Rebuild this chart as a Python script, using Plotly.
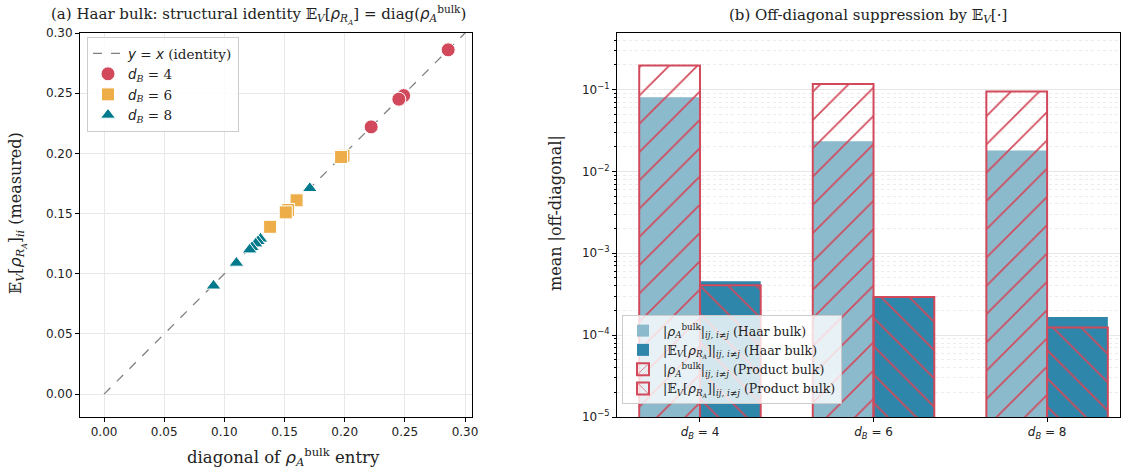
import plotly.graph_objects as go

# ---------------- Panel (a) data ----------------
identity_x = [0.0, 0.305]
identity_y = [0.0, 0.305]

d4_bulk = [0.286, 0.249, 0.245, 0.222]
d4_meas = [0.286, 0.248, 0.245, 0.222]

d6_bulk = [0.199, 0.197, 0.160, 0.153, 0.151, 0.138]
d6_meas = [0.198, 0.197, 0.161, 0.153, 0.151, 0.139]

d8_bulk = [0.171, 0.130, 0.128, 0.126, 0.123, 0.121, 0.110, 0.091]
d8_meas = [0.171, 0.129, 0.127, 0.125, 0.122, 0.120, 0.109, 0.090]

x_ticks_a = [0.00, 0.05, 0.10, 0.15, 0.20, 0.25, 0.30]
y_ticks_a = [0.00, 0.05, 0.10, 0.15, 0.20, 0.25, 0.30]

# ---------------- Panel (b) data ----------------
cat_idx = [0, 1, 2]
cat_labels = ["<i>d</i><sub><i>B</i></sub> = 4", "<i>d</i><sub><i>B</i></sub> = 6", "<i>d</i><sub><i>B</i></sub> = 8"]
haar_bulk_off = [0.0805, 0.0234, 0.0180]
haar_ev_off = [4.56e-4, 2.85e-4, 1.67e-4]
prod_bulk_off = [0.196, 0.117, 0.0946]
prod_ev_off = [4.07e-4, 2.93e-4, 1.24e-4]
y_ticks_b = [1e-5, 1e-4, 1e-3, 1e-2, 1e-1]
y_ticktext_b = ["10<sup>−5</sup>", "10<sup>−4</sup>", "10<sup>−3</sup>", "10<sup>−2</sup>", "10<sup>−1</sup>"]

RED = "#d1495b"
ORANGE = "#edae49"
TEAL = "#00798c"
LIGHT = "#8cbacd"
DARK = "#2e86ab"
SERIF = "DejaVu Serif"
SANS = "DejaVu Sans"

def m(s):
    return '<span style="font-family:DejaVu Sans"><i>' + s + '</i></span>'

fig = go.Figure()

# panel (a)
fig.add_trace(go.Scatter(x=identity_x, y=identity_y, mode="lines",
                         line=dict(color="#808080", width=1.3, dash="dash"),
                         name=m("y") + " = " + m("x") + " (identity)",
                         xaxis="x", yaxis="y", legend="legend"))
fig.add_trace(go.Scatter(x=d4_bulk, y=d4_meas, mode="markers",
                         marker=dict(symbol="circle", size=14, color=RED, line=dict(color="white", width=1)),
                         name=m("d") + "<sub><i>B</i></sub> = 4", xaxis="x", yaxis="y", legend="legend"))
fig.add_trace(go.Scatter(x=d6_bulk, y=d6_meas, mode="markers",
                         marker=dict(symbol="square", size=13, color=ORANGE, line=dict(color="white", width=1)),
                         name=m("d") + "<sub><i>B</i></sub> = 6", xaxis="x", yaxis="y", legend="legend"))
fig.add_trace(go.Scatter(x=d8_bulk, y=d8_meas, mode="markers",
                         marker=dict(symbol="triangle-up", size=13, color=TEAL, line=dict(color="white", width=1)),
                         name=m("d") + "<sub><i>B</i></sub> = 8", xaxis="x", yaxis="y", legend="legend"))

# panel (b)
W = 0.35
lab_bulk = "|" + m("ρ") + "<sub><i>A</i></sub><sup>bulk</sup>|<sub><i>ij, i≠j</i></sub>"
lab_ev = "|𝔼<sub><i>V</i></sub>[" + m("ρ") + "<sub><i>R<sub>A</sub></i></sub>]|<sub><i>ij, i≠j</i></sub>"

fig.add_trace(go.Bar(x=cat_idx, y=haar_bulk_off, width=W, offset=-W,
                     marker=dict(color=LIGHT, line=dict(width=0)),
                     name=lab_bulk + " (Haar bulk)", xaxis="x2", yaxis="y2", legend="legend2"))
fig.add_trace(go.Bar(x=cat_idx, y=haar_ev_off, width=W, offset=0,
                     marker=dict(color=DARK, line=dict(width=0)),
                     name=lab_ev + " (Haar bulk)", xaxis="x2", yaxis="y2", legend="legend2"))
fig.add_trace(go.Bar(x=cat_idx, y=prod_bulk_off, width=W, offset=-W,
                     marker=dict(color="rgba(0,0,0,0)", line=dict(color=RED, width=2),
                                 pattern=dict(shape="/", fgcolor=RED, bgcolor="rgba(0,0,0,0)", fgopacity=1,
                                              size=20, solidity=0.085, fillmode="overlay")),
                     name=lab_bulk + " (Product bulk)", xaxis="x2", yaxis="y2", legend="legend2"))
fig.add_trace(go.Bar(x=cat_idx, y=prod_ev_off, width=W, offset=0,
                     marker=dict(color="rgba(0,0,0,0)", line=dict(color=RED, width=2),
                                 pattern=dict(shape="\\", fgcolor=RED, bgcolor="rgba(0,0,0,0)", fgopacity=1,
                                              size=20, solidity=0.085, fillmode="overlay")),
                     name=lab_ev + " (Product bulk)", xaxis="x2", yaxis="y2", legend="legend2"))

FW, FH = 1129, 472
def px_x(p):
    return p / FW
def px_y(p):
    return 1 - p / FH

minor_vals = [k * 10.0 ** e for e in range(-5, 0) for k in range(2, 10)]

axis_common = dict(showline=True, linecolor="black", linewidth=1, mirror=True,
                   ticks="outside", ticklen=4, tickcolor="black", zeroline=False,
                   automargin=False,
                   tickfont=dict(family=SANS, size=12, color="#222"))

fig.update_layout(
    width=FW, height=FH,
    margin=dict(l=0, r=0, t=0, b=0, autoexpand=False),
    paper_bgcolor="white", plot_bgcolor="white",
    barmode="overlay",
    xaxis=dict(domain=[px_x(80), px_x(472)], range=[-0.02, 0.3058],
               tickvals=x_ticks_a, ticktext=["%.2f" % v for v in x_ticks_a],
               showgrid=True, gridcolor="#e8e8e8", anchor="y", **axis_common),
    yaxis=dict(domain=[px_y(417), px_y(33)], range=[-0.019, 0.30],
               tickvals=y_ticks_a, ticktext=["%.2f" % v for v in y_ticks_a],
               showgrid=True, gridcolor="#e8e8e8", anchor="x", **axis_common),
    xaxis2=dict(domain=[px_x(617), px_x(1120)], range=[-0.478, 2.42],
                tickvals=cat_idx, ticktext=cat_labels, showgrid=False, anchor="y2", **axis_common),
    yaxis2=dict(domain=[px_y(417), px_y(33)], type="log", range=[-5, -0.31],
                tickvals=y_ticks_b, ticktext=y_ticktext_b,
                showgrid=True, gridcolor="#e6e6e6", anchor="x2",
                minor=dict(tickvals=minor_vals, ticks="outside", ticklen=2, tickcolor="black",
                           showgrid=True, gridcolor="#ececec", griddash="dot", gridwidth=1),
                **axis_common),
    legend=dict(x=px_x(87), y=px_y(37), xanchor="left", yanchor="top",
                bgcolor="rgba(255,255,255,0.85)", bordercolor="#cccccc", borderwidth=1,
                font=dict(family=SERIF, size=13.5, color="#222"), tracegroupgap=2, itemwidth=30),
    legend2=dict(x=px_x(622), y=px_y(315), xanchor="left", yanchor="top",
                 bgcolor="rgba(255,255,255,0.8)", bordercolor="#cccccc", borderwidth=1,
                 font=dict(family=SERIF, size=12.5, color="#222"), itemwidth=30),
    showlegend=True,
)

ann = [
    dict(text="(a) Haar bulk: structural identity 𝔼<sub><i>V</i></sub>[" + m("ρ") + "<sub><i>R<sub>A</sub></i></sub>] = diag(" + m("ρ") + "<sub><i>A</i></sub><sup>bulk</sup>)",
         x=px_x(258), y=px_y(15), font=dict(family=SERIF, size=15, color="#222")),
    dict(text="(b) Off-diagonal suppression by 𝔼<sub><i>V</i></sub>[·]",
         x=px_x(868), y=px_y(15), font=dict(family=SERIF, size=15, color="#222")),
    dict(text="diagonal of " + m("ρ") + "<sub><i>A</i></sub><sup>bulk</sup> entry",
         x=px_x(283), y=px_y(457), font=dict(family=SERIF, size=16.5, color="#222")),
    dict(text="𝔼<sub><i>V</i></sub>[" + m("ρ") + "<sub><i>R<sub>A</sub></i></sub>]<sub><i>ii</i></sub> (measured)",
         x=px_x(17), y=px_y(213), textangle=-90, font=dict(family=SERIF, size=16, color="#222")),
    dict(text="mean |off-diagonal|",
         x=px_x(555), y=px_y(213), textangle=-90, font=dict(family=SERIF, size=16, color="#222")),
]
for a in ann:
    a.update(xref="paper", yref="paper", showarrow=False, xanchor="center", yanchor="middle")
fig.update_layout(annotations=ann)

fig.write_html("out.html", config={"displayModeBar": False},
               post_script="document.body.style.margin='0';document.body.style.overflow='hidden';")
